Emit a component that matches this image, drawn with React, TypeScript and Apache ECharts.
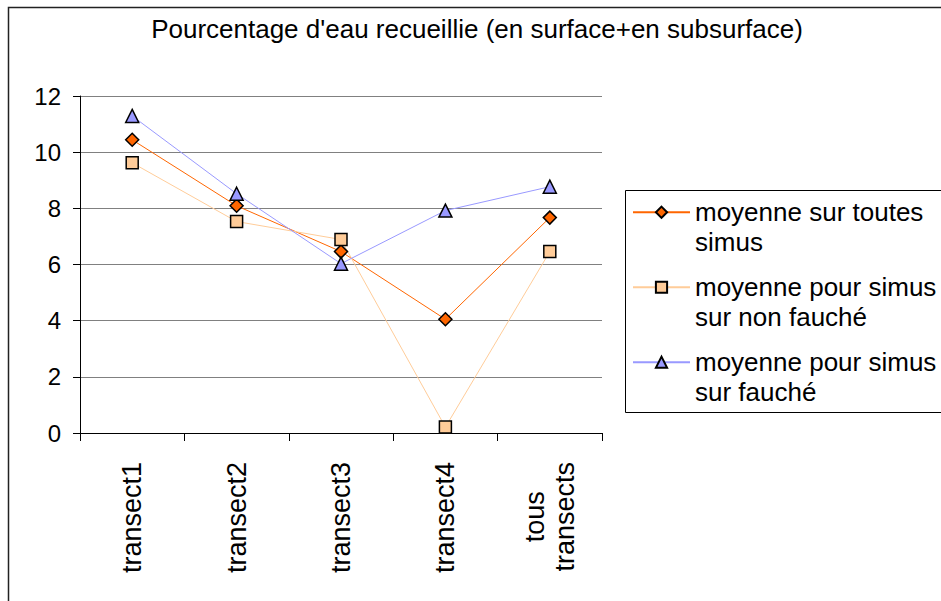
import React, { useEffect, useRef } from "react";
import * as echarts from "echarts";

const categories = ["transect1", "transect2", "transect3", "transect4", "tous\ntransects"];
const seriesNames = [
  "moyenne sur toutes\nsimus",
  "moyenne pour simus\nsur non fauché",
  "moyenne pour simus\nsur fauché",
];
const toutesSimus = [10.44, 8.09, 6.46, 4.05, 7.67];
const nonFauche = [9.62, 7.53, 6.89, 0.21, 6.46];
const fauche = [11.29, 8.52, 6.03, 7.92, 8.77];
const yTicks = { min: 0, max: 12, interval: 2 };

const FONT = "'Liberation Sans', Arial, Helvetica, sans-serif";

export default function App() {
  const ref = useRef<HTMLDivElement>(null);
  useEffect(() => {
    if (!ref.current) return;
    const chart = echarts.init(ref.current, null, { renderer: "svg" });
    const mk = (name: string, data: number[], color: string, symbol: string, size: number) => ({
      name,
      type: "line",
      data,
      symbol,
      symbolSize: size,
      lineStyle: { color, width: 1 },
      itemStyle: { color, borderColor: "#000", borderWidth: 1.5 },
      emphasis: { disabled: true },
    });
    chart.setOption({
      animation: false,
      backgroundColor: "#fff",
      textStyle: { fontFamily: FONT },
      title: {
        text: "Pourcentage d'eau recueillie (en surface+en subsurface)",
        left: 472,
        textAlign: "center",
        top: 11,
        textStyle: { fontSize: 26, fontWeight: "normal", color: "#000", fontFamily: FONT },
      },
      graphic: [
        {
          type: "rect",
          shape: { x: 8.5, y: 7.5, width: 1000, height: 700 },
          style: { fill: "none", stroke: "#222", lineWidth: 1.5 },
          silent: true,
        },
        {
          type: "rect",
          shape: { x: 625.5, y: 190.5, width: 400, height: 222 },
          style: { fill: "none", stroke: "#000", lineWidth: 1 },
          silent: true,
        },
      ],
      legend: {
        orient: "vertical",
        left: 632,
        top: 168,
        data: seriesNames,
        formatter: (name: string) => "\n" + name,
        itemWidth: 57,
        itemHeight: 14,
        itemGap: -13.5,
        padding: 0,
        borderWidth: 0,
        textStyle: { fontSize: 26, color: "#000", lineHeight: 29.5, fontFamily: FONT },
      },
      grid: { left: 80, top: 96, right: 339, bottom: 168, containLabel: false },
      xAxis: {
        type: "category",
        data: categories,
        boundaryGap: true,
        axisLine: { lineStyle: { color: "#000", width: 1 } },
        axisTick: { show: true, length: 8, lineStyle: { color: "#000" } },
        axisLabel: {
          rotate: 90,
          color: "#000",
          margin: 29,
          interval: 0,
          formatter: (v: string) =>
            v
              .split("\n")
              .map((s) => `{c|${s}}`)
              .join("\n"),
          rich: {
            c: { fontSize: 27, lineHeight: 30, align: "center", fontFamily: FONT, color: "#000" },
          },
        },
        splitLine: { show: false },
      },
      yAxis: {
        type: "value",
        min: yTicks.min,
        max: yTicks.max,
        interval: yTicks.interval,
        axisLine: { show: true, lineStyle: { color: "#000", width: 1 } },
        axisTick: { show: true, length: 7, lineStyle: { color: "#000" } },
        axisLabel: { fontSize: 24, color: "#000", margin: 19, fontFamily: FONT },
        splitLine: { show: true, lineStyle: { color: "#808080", width: 1 } },
      },
      series: [
        mk(seriesNames[0], toutesSimus, "#FF6600", "diamond", 13),
        mk(seriesNames[1], nonFauche, "#FFCC99", "rect", 12),
        mk(seriesNames[2], fauche, "#9999FF", "triangle", 13),
      ],
    });
    return () => chart.dispose();
  }, []);
  return (
    <div
      ref={ref}
      style={{ position: "absolute", left: 0, top: 0, width: 941, height: 601 }}
    />
  );
}
